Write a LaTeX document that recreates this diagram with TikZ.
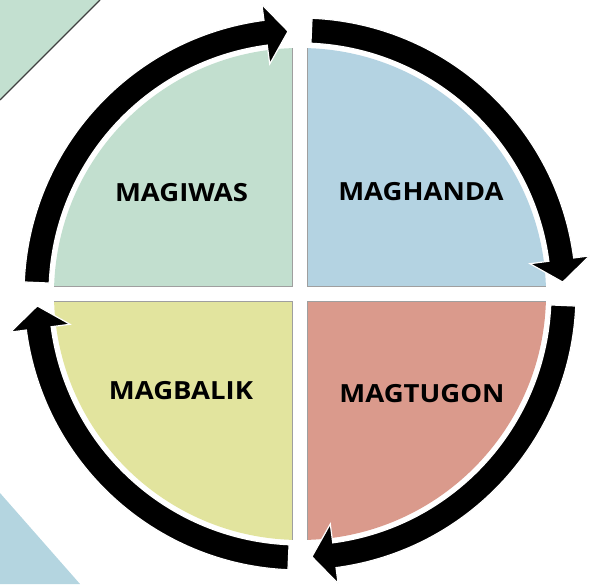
\documentclass[tikz,border=0pt]{standalone}
\usepackage{fontspec}
\setmainfont{Open Sans}
\definecolor{cornergreen}{RGB}{195,224,208}
\definecolor{cornerblue}{RGB}{180,213,224}
\definecolor{qgreen}{RGB}{194,223,207}
\definecolor{qblue}{RGB}{180,211,226}
\definecolor{qred}{RGB}{218,154,140}
\definecolor{qyellow}{RGB}{226,228,158}
\begin{document}
\begin{tikzpicture}[x=1pt,y=1pt,
  lbl/.style={font=\fontsize{25}{29}\selectfont\bfseries, xscale=1.1, anchor=base, inner sep=0pt},
  edgeline/.style={draw=gray!75, line width=1pt},
  arrowshape/.style={fill=black, draw=white, line width=1.2pt, line join=miter}]
\useasboundingbox (0,0) rectangle (594,584);
% corner decorations
\fill[cornergreen] (0,584) -- (100,584) -- (0,484) -- cycle;
\draw[gray!50!black, line width=1.3pt] (100,584) -- (0,484);
\fill[cornerblue] (0,0) -- (0,91) -- (80,0) -- cycle;
% quadrants
\coordinate (C) at (300,290);
\begin{scope}\clip (0,297.5) rectangle (292.5,584); \fill[qgreen] (C) circle (246); \end{scope}
\begin{scope}\clip (307.5,297.5) rectangle (594,584); \fill[qblue] (C) circle (246); \end{scope}
\begin{scope}\clip (0,0) rectangle (292.5,282.5); \fill[qyellow] (C) circle (246); \end{scope}
\begin{scope}\clip (307.5,0) rectangle (594,282.5); \fill[qred] (C) circle (246); \end{scope}
\draw[edgeline] (292.5,535.9) -- (292.5,297.5) -- (54.1,297.5);
\draw[edgeline] (307.5,535.9) -- (307.5,297.5) -- (545.9,297.5);
\draw[edgeline] (292.5,44.1) -- (292.5,282.5) -- (54.1,282.5);
\draw[edgeline] (307.5,44.1) -- (307.5,282.5) -- (545.9,282.5);
% cycle arrows
\begin{scope}[shift={(300,290)}]
\foreach \s/\b/\t in {177.5/97.5/92.6, 87.5/7.5/2.6, -2.5/-82.5/-87.4, -92.5/-172.5/-177.4}{
  \draw[arrowshape] (\s:276) arc[start angle=\s, end angle=\b, radius=276]
    -- (\b:292) -- (\t:263) -- (\b:232) -- (\b:251)
    arc[start angle=\b, end angle=\s, radius=251] -- cycle;
}
\end{scope}
% labels
\node[lbl] (giwas) at (181.5,382) {MAGIWAS};
\node[lbl] (handa) at (421,383) {MAGHANDA};
\node[lbl] (balik) at (181,184) {MAGBALIK};
\node[lbl] (tugon) at (422,182) {MAGTUGON};
\end{tikzpicture}
\end{document}
